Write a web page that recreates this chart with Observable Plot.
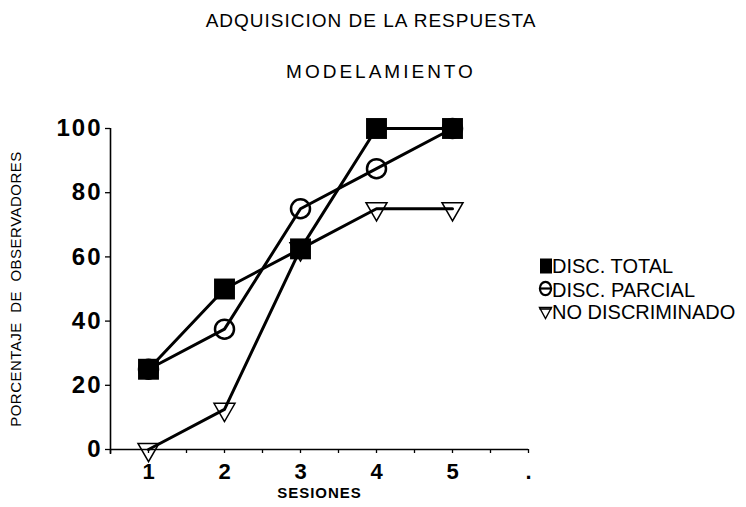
<!DOCTYPE html>
<html>
<head>
<meta charset="utf-8">
<script src="https://cdn.jsdelivr.net/npm/d3@7"></script>
<script src="https://cdn.jsdelivr.net/npm/@observablehq/plot@0.6"></script>
<style>
  html, body { margin: 0; padding: 0; background: #fff; }
  #root { position: relative; width: 746px; height: 507px; font-family: "Liberation Sans", Arial, sans-serif; color: #000; overflow: hidden; }
  .ttl { position: absolute; white-space: nowrap; font-size: 19px; line-height: 19px; transform: translateX(-50%); }
  #chart { position: absolute; left: 0; top: 100px; }
  .leg { position: absolute; left: 552px; font-size: 20px; line-height: 20px; white-space: nowrap; }
  .sym { position: absolute; left: 538px; }
  g[aria-label="y-axis tick label"] text { letter-spacing: 2px; }
</style>
</head>
<body>
<div id="root"></div>
<script>
// ---- data ----
const title = "ADQUISICION DE LA RESPUESTA";
const subtitle = "MODELAMIENTO";
const xLabel = "SESIONES";
const yLabel = "PORCENTAJE\u00a0\u00a0DE\u00a0\u00a0OBSERVADORES";
const sessions = [1, 2, 3, 4, 5];
const seriesNames = ["DISC. TOTAL", "DISC. PARCIAL", "NO DISCRIMINADO"];
const discTotal = [25, 50, 62.5, 100, 100];
const discParcial = [25, 37.5, 75, 87.5, 100];
const noDiscriminado = [0, 12.5, 62.5, 75, 75];
const yTicks = [0, 20, 40, 60, 80, 100];
const xTickValues = [1, 2, 3, 4, 5, 6];
const xTickLabels = ["1", "2", "3", "4", "5", "."];
const xMinorTicks = [0.5, 1, 1.5, 2, 2.5, 3, 3.5, 4, 4.5, 5, 5.5, 6];
const xDomain = [0.5, 6];
const yDomain = [0, 100];

// ---- table ----
const seriesValues = [discTotal, discParcial, noDiscriminado];
const rows = seriesNames.flatMap((s, i) =>
  seriesValues[i].map((v, j) => ({session: sessions[j], value: v, series: s})));
const bySeries = s => rows.filter(d => d.series === s);

const root = document.getElementById("root");

// titles
const t1 = document.createElement("div");
t1.className = "ttl"; t1.textContent = title;
Object.assign(t1.style, {left: "371px", top: "10.5px", letterSpacing: "1px"});
root.appendChild(t1);
const t2 = document.createElement("div");
t2.className = "ttl"; t2.textContent = subtitle;
Object.assign(t2.style, {left: "381px", top: "61.5px", letterSpacing: "3px"});
root.appendChild(t2);

// chart
const chart = Plot.plot({
  width: 746,
  height: 407,
  marginLeft: 110,
  marginRight: 218,
  marginTop: 28,
  marginBottom: 58,
  style: {fontFamily: "'Liberation Sans', Arial, sans-serif", color: "black", background: "white", overflow: "visible"},
  x: {domain: xDomain},
  y: {domain: yDomain},
  marks: [
    Plot.ruleY([yDomain[0]], {stroke: "black", strokeWidth: 1.6}),
    Plot.ruleX([xDomain[0]], {stroke: "black", strokeWidth: 1.6, insetBottom: -5}),
    Plot.axisY(yTicks, {tickSize: 5, tickPadding: 3, fontSize: 24, fontWeight: "bold", label: null, strokeWidth: 1.3}),
    Plot.axisX(xMinorTicks, {tickSize: 4, tickFormat: () => "", label: null, strokeWidth: 1.3}),
    Plot.axisX(xTickValues, {tickSize: 0, tickPadding: 14, fontSize: 22, fontWeight: "bold", label: null,
      tickFormat: d => xTickLabels[xTickValues.indexOf(d)]}),
    Plot.text([xLabel], {frameAnchor: "bottom", dy: 48.5, fontSize: 15, fontWeight: "bold"}),
    Plot.text([yLabel], {frameAnchor: "left", textAnchor: "middle", dx: -94, rotate: -90, fontSize: 15}),
    Plot.line(rows, {x: "session", y: "value", z: "series", stroke: "black", strokeWidth: 3}),
    Plot.dot(bySeries(seriesNames[1]), {x: "session", y: "value", symbol: "circle", r: 9.5, fill: "none", stroke: "black", strokeWidth: 2.5}),
    Plot.dot(bySeries(seriesNames[2]), {x: "session", y: "value", symbol: "triangle", rotate: 180, r: 7.8, fill: "none", stroke: "black", strokeWidth: 1.5}),
    Plot.dot(bySeries(seriesNames[0]), {x: "session", y: "value", symbol: "square", r: 11.8, fill: "black", stroke: "none"})
  ]
});
chart.id = "chart";
root.appendChild(chart);
d3.select(chart).selectAll('g[aria-label="text"] text').style("letter-spacing", function() {
  return this.textContent === xLabel ? "1px" : "0.5px";
});

// legend
const legTops = [256, 279.5, 301.5];
const symbols = [
  '<svg width="16" height="18"><rect x="2" y="1.5" width="12" height="15" fill="black"/></svg>',
  '<svg width="16" height="18"><ellipse cx="7.5" cy="8.5" rx="5.6" ry="6.6" fill="none" stroke="black" stroke-width="2.2"/><line x1="2" x2="13" y1="8.5" y2="8.5" stroke="black" stroke-width="2.2"/></svg>',
  '<svg width="16" height="18"><path d="M1.5,2.5 L13.5,2.5 L7.5,13.5 Z" fill="none" stroke="black" stroke-width="1.4"/><line x1="1.5" x2="13.5" y1="4" y2="4" stroke="black" stroke-width="1.6"/></svg>'
];
const symTops = [256.5, 280, 305];
seriesNames.forEach((s, i) => {
  const sym = document.createElement("div");
  sym.className = "sym"; sym.innerHTML = symbols[i];
  sym.style.top = symTops[i] + "px";
  root.appendChild(sym);
  const t = document.createElement("div");
  t.className = "leg"; t.textContent = s;
  t.style.top = legTops[i] + "px";
  root.appendChild(t);
});
</script>
</body>
</html>
